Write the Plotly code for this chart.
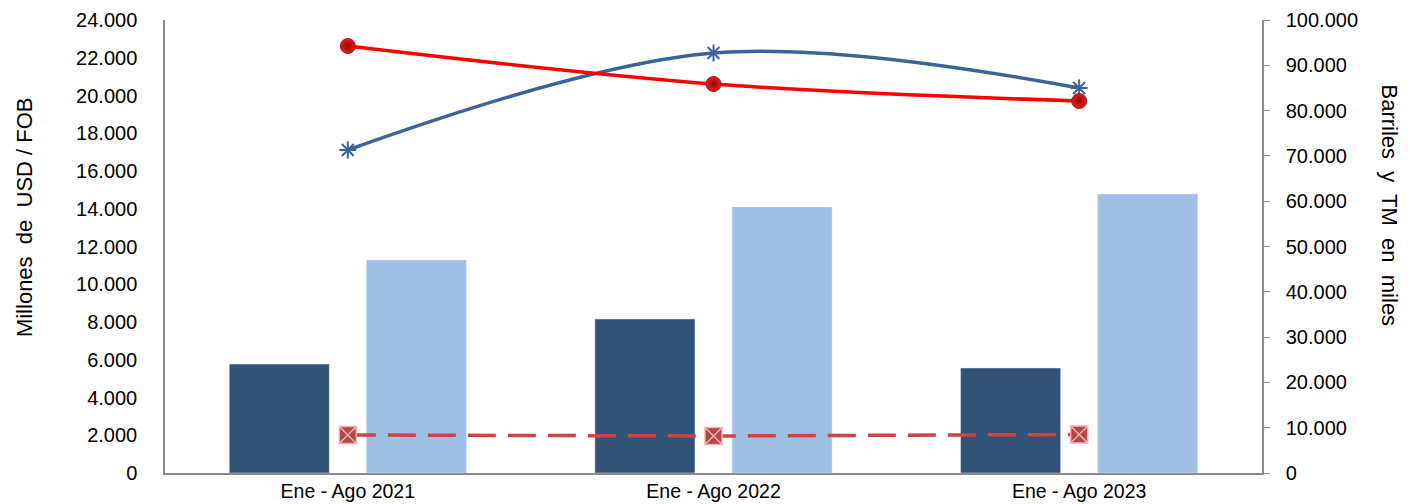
import plotly.graph_objects as go

# Categorias y series
periodos = ["Ene - Ago 2021", "Ene - Ago 2022", "Ene - Ago 2023"]
valor_a = [5775, 8160, 5565]        # barras oscuras (millones USD FOB)
valor_b = [11285, 14095, 14780]     # barras claras (millones USD FOB)
vol_rojo = [94260, 85870, 82120]    # linea roja (miles)
vol_azul = [71300, 92720, 84990]    # linea azul (miles)
vol_trazos = [8390, 8170, 8500]     # linea discontinua (miles)

fig = go.Figure()

fig.add_trace(go.Bar(x=periodos, y=valor_a, marker_color="#325276", name="A"))
fig.add_trace(go.Bar(x=periodos, y=valor_b, marker_color="#9fbfe4", name="B"))

fig.add_trace(go.Scatter(
    x=periodos, y=vol_azul, yaxis="y2", mode="lines+markers", line_shape="spline",
    line=dict(color="#3a6497", width=3.5),
    marker=dict(symbol="asterisk-open", size=14, line=dict(color="#5b4a80", width=2)),
    name="C"))
fig.add_trace(go.Scatter(
    x=periodos, y=vol_rojo, yaxis="y2", mode="lines+markers", line_shape="spline",
    line=dict(color="#ff0000", width=3.5),
    marker=dict(symbol="circle", size=15, color="#ff1010",
                gradient=dict(type="radial", color="#7a1010"),
                line=dict(color="#8a2020", width=1)),
    name="D"))
fig.add_trace(go.Scatter(
    x=periodos, y=vol_trazos, yaxis="y2", mode="lines+markers",
    line=dict(color="#cc4444", width=3.5, dash="28px,12px"),
    marker=dict(symbol="square-x", size=17, color="#b04848",
                line=dict(color="#f2b0b0", width=1.5)),
    name="E"))

font = dict(family="Liberation Sans, Arial", size=20, color="#000000")
title_font = dict(family="Liberation Sans, Arial", size=22, color="#000000")

fig.update_layout(
    width=1409, height=504,
    margin=dict(l=165, r=147, t=20, b=31),
    plot_bgcolor="white", paper_bgcolor="white",
    showlegend=False, separators=",.",
    barmode="group", bargap=0.25, bargroupgap=0.27,
    font=font,
    xaxis=dict(showline=True, linecolor="#8c8c8c", linewidth=1.5, ticks="",
               showgrid=False, tickfont=dict(size=19.5), automargin=False),
    yaxis=dict(range=[0, 24000], dtick=2000, tickformat=",d", showgrid=False,
               showline=True, linecolor="#8c8c8c", linewidth=1.5, ticks="",
               ticklabelstandoff=22, zeroline=False, automargin=False),
    yaxis2=dict(range=[0, 100000], dtick=10000, tickformat=",d", overlaying="y",
                side="right", showgrid=False, showline=True, linecolor="#8c8c8c",
                linewidth=1.5, ticks="outside", ticklen=6, tickcolor="#8c8c8c",
                ticklabelstandoff=12, zeroline=False, automargin=False),
    annotations=[
        dict(text="Millones\u00a0 de\u00a0 USD / FOB", textangle=-90,
             xref="paper", yref="paper", x=-0.128, y=0.564, showarrow=False,
             xanchor="center", yanchor="middle", font=title_font),
        dict(text="Barriles\u00a0 y\u00a0 TM\u00a0 en\u00a0 miles", textangle=90,
             xref="paper", yref="paper", x=1.116, y=0.59, showarrow=False,
             xanchor="center", yanchor="middle", font=title_font),
    ],
)

fig.write_html("out.html", config={"displayModeBar": False},
               post_script="document.body.style.margin='0';")
